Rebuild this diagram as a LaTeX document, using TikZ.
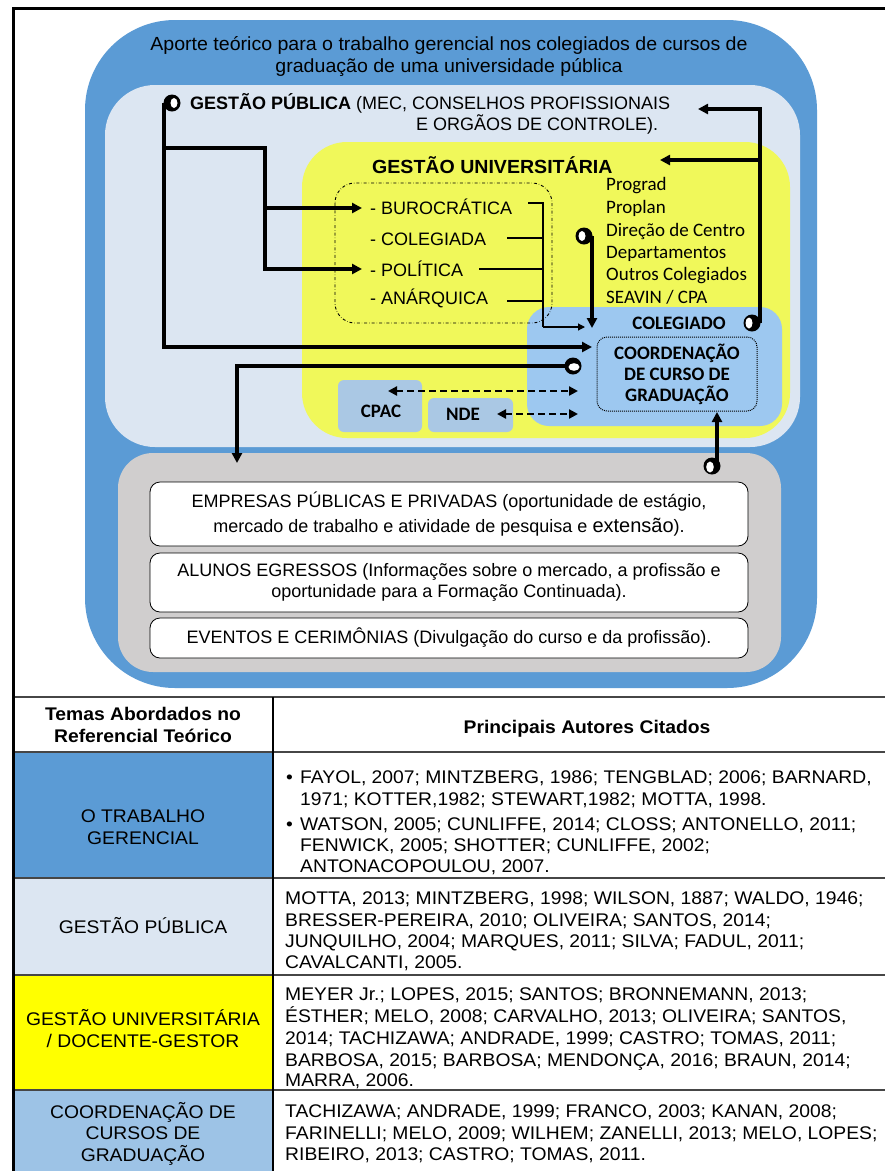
\documentclass[tikz,border=0pt]{standalone}
\usepackage{fontspec}
\setmainfont[FakeStretch=1.03]{Liberation Sans}
\newfontfamily\plainfont{Liberation Sans}
\newfontfamily\tabfont[FakeStretch=1.055]{Liberation Sans}
\newfontfamily\calfont{Carlito}
\usetikzlibrary{arrows.meta}
\definecolor{outerblue}{RGB}{91,155,213}
\definecolor{paleblue}{RGB}{220,230,242}
\definecolor{ylw}{RGB}{240,248,90}
\definecolor{colblue}{RGB}{157,200,240}
\definecolor{cpacblue}{RGB}{170,200,228}
\definecolor{greybox}{RGB}{208,206,206}
\definecolor{tabyellow}{RGB}{255,255,0}
\definecolor{tabblue}{RGB}{157,195,230}
\definecolor{rule}{RGB}{70,70,70}
\newcommand\fA{\fontsize{19}{21.5}\selectfont}
\newcommand\fB{\plainfont\fontsize{18}{21}\selectfont}
\newcommand\fC{\calfont\fontsize{19}{21}\selectfont}
\newcommand\fT{\tabfont\fontsize{18.3}{21.5}\selectfont}
\begin{document}
\begin{tikzpicture}[x=1pt,y=-1pt,
  conn/.style={line width=4pt,-{Triangle[length=10pt,width=10pt]}},
  thinconn/.style={line width=1.1pt},
  dsh/.style={line width=2.5pt,dash pattern=on 7pt off 4pt,
     {Triangle[length=9pt,width=9pt]}-{Triangle[length=9pt,width=9pt]}},
  knob/.style={circle,fill=black,inner sep=0pt,minimum size=17pt},
  txt/.style={inner sep=0pt,anchor=base west},
  ctxt/.style={inner sep=0pt,anchor=base,align=center},
  wbox/.style={draw=black,line width=0.8pt,fill=white,rounded corners=10pt}]
\useasboundingbox (0,0) rectangle (885,1171);
\fill[white] (0,0) rectangle (885,1171);
% frame
\draw[line width=3pt] (13,1171) -- (13,8) -- (885,8);
% regions
\fill[outerblue,rounded corners=90pt] (85,20) rectangle (817,688);
\fill[paleblue,rounded corners=50pt] (105,85) rectangle (800,447);
\fill[ylw,rounded corners=45pt] (302,142) rectangle (790,438);
\fill[colblue,rounded corners=22pt] (527,307) rectangle (782,426);
\fill[cpacblue,rounded corners=6pt] (338,380) rectangle (422,432);
\fill[cpacblue,rounded corners=6pt] (428,398) rectangle (513,432);
\draw[dash dot,line width=0.9pt,rounded corners=20pt] (335,183) rectangle (552,323);
\fill[greybox,rounded corners=35pt] (118,453) rectangle (781,672);
% title
\node[ctxt,font=\fA] (title) at (449,72) {Aporte teórico para o trabalho gerencial nos colegiados de cursos de\\graduação de uma universidade pública};
\node[txt,font=\fB] (gp1) at (190,109) {\textbf{GESTÃO PÚBLICA} (MEC, CONSELHOS PROFISSIONAIS};
\node[txt,font=\fB] (gp2) at (416,130) {E ORGÃOS DE CONTROLE).};
\node[txt,font=\fA\bfseries] (gu) at (372,173) {GESTÃO UNIVERSITÁRIA};
\node[txt,font=\fB] (bur) at (370,214) {- BUROCRÁTICA};
\node[txt,font=\fB] (col) at (370,245) {- COLEGIADA};
\node[txt,font=\fB] (pol) at (370,276) {- POLÍTICA};
\node[txt,font=\fB] (ana) at (370,304) {- ANÁRQUICA};
\node[txt,font=\fC] (l1) at (606,190) {Prograd};
\node[txt,font=\fC] (l2) at (606,213) {Proplan};
\node[txt,font=\fC] (l3) at (606,236) {Direção de Centro};
\node[txt,font=\fC] (l4) at (606,258) {Departamentos};
\node[txt,font=\fC] (l5) at (606,280) {Outros Colegiados};
\node[txt,font=\fC] (l6) at (606,303) {SEAVIN / CPA};
\node[ctxt,font=\fC\bfseries] (colg) at (679,329) {COLEGIADO};
\node[draw,densely dotted,line width=1pt,rounded corners=10pt,minimum width=160pt,minimum height=74pt,align=center,font=\fC\bfseries,inner sep=0pt] (coord) at (677,374) {COORDENAÇÃO\\DE CURSO DE\\GRADUAÇÃO};
\node[ctxt,font=\fC\bfseries] (cpac) at (381,417) {CPAC};
\node[ctxt,font=\fC\bfseries] (nde) at (463,420) {NDE};
% white boxes
\node[wbox,minimum width=598pt,minimum height=64pt,align=center,font=\fB,inner sep=0pt] (emp) at (449,514) {EMPRESAS PÚBLICAS E PRIVADAS (oportunidade de estágio,\\[4pt]mercado de trabalho e atividade de pesquisa e {\fontsize{20}{21}\selectfont extensão}).};
\node[wbox,minimum width=598pt,minimum height=59pt,align=center,font=\fB,inner sep=0pt] (alu) at (449,582.5) {ALUNOS EGRESSOS (Informações sobre o mercado, a profissão e\\oportunidade para a Formação Continuada).};
\node[wbox,minimum width=598pt,minimum height=40pt,align=center,font=\fB,inner sep=0pt] (eve) at (449,638) {EVENTOS E CERIMÔNIAS (Divulgação do curso e da profissão).};
% coordinates for connectors
\coordinate (a1) at (592,347);
\coordinate (b0) at (164,148);
\coordinate (b1) at (265,148);
\coordinate (b2) at (265,208);
\coordinate (t1) at (362,208);
\coordinate (t2) at (362,269);
\coordinate (s0) at (528,203);
\coordinate (s1) at (543,203);
\coordinate (s2) at (543,327);
\coordinate (s3) at (585,327);
\coordinate (c1) at (507,238);
\coordinate (c2) at (479,269);
\coordinate (c3) at (507,301);
\coordinate (r1) at (760,109);
\coordinate (r2) at (698,109);
\coordinate (r3) at (760,160);
\coordinate (r4) at (660,160);
\coordinate (d1) at (592,328);
\coordinate (e1) at (237,463);
\coordinate (f1) at (388,391);
\coordinate (f2) at (578,391);
\coordinate (f3) at (497,414);
\coordinate (f4) at (578,414);
\coordinate (k1p) at (172,103);
\coordinate (k2p) at (584,236);
\coordinate (k3p) at (752,323);
\coordinate (k4p) at (573,366);
\coordinate (k5p) at (712,466);
% connectors
\draw[conn] (164,103) |- (a1);
\draw[line width=4pt] (b0) -- (b1) -- (b2);
\draw[conn] (b2) -- (t1);
\draw[conn] (b2) |- (t2);
\draw[thinconn] (s0) -- (s1) -- (s2);
\draw[thinconn,-{Triangle[length=7pt,width=7pt]}] (s2) -- (s3);
\draw[thinconn] (c1) -- (c1 -| s1);
\draw[thinconn] (c2) -- (c2 -| s1);
\draw[thinconn] (c3) -- (c3 -| s1);
\draw[conn] (760,323) -- (r1) -- (r2);
\draw[conn] (r3) -- (r4);
\draw[conn] (592,236) -- (d1);
\draw[conn] (k4p) -| (e1);
\draw[conn] (717,466) -- (717,412);
\draw[dsh] (f1) -- (f2);
\draw[dsh] (f3) -- (f4);
% knobs
\node[knob] (k1) at (k1p) {};
\fill[white] (k1) ++(2,0) ellipse [x radius=3.5pt,y radius=5pt];
\node[knob] (k2) at (k2p) {};
\fill[white] (k2) ++(-2,0) ellipse [x radius=3.5pt,y radius=5pt];
\node[knob] (k3) at (k3p) {};
\fill[white] (k3) ++(-3,0) ellipse [x radius=3.5pt,y radius=5.5pt];
\node[knob] (k4) at (k4p) {};
\fill[white] (k4) ++(1,1) ellipse [x radius=5.5pt,y radius=3.8pt];
\node[knob] (k5) at (k5p) {};
\fill[white] (k5) ++(-2,1) ellipse [x radius=3.8pt,y radius=5.5pt];
% table
\fill[outerblue] (15,752) rectangle (273,878);
\fill[paleblue] (15,878) rectangle (273,975);
\fill[tabyellow] (15,975) rectangle (273,1090);
\fill[tabblue] (15,1090) rectangle (273,1171);
\draw[rule,line width=2pt] (13,697) -- (885,697);
\foreach \yy in {752,878,975,1090} {\draw[rule,line width=1.5pt] (13,\yy) -- (885,\yy);}
\draw[black,line width=1.5pt] (273,697) -- (273,1171);
\draw[line width=3pt] (13,690) -- (13,1171);
\node[ctxt,font=\fT\bfseries] (h1) at (143,742) {Temas Abordados no\\Referencial Teórico};
\node[ctxt,font=\fT\bfseries] (h2) at (587,733) {Principais Autores Citados};
\node[ctxt,font=\fT] (m1) at (143,844) {O TRABALHO\\GERENCIAL};
\node[ctxt,font=\fT] (m2) at (143,933) {GESTÃO PÚBLICA};
\node[ctxt,font=\fT] (m3) at (143,1047) {GESTÃO UNIVERSITÁRIA\\/ DOCENTE-GESTOR};
\node[ctxt,font=\fT] (m4) at (143,1161) {COORDENAÇÃO DE\\CURSOS DE\\GRADUAÇÃO};
\node[txt,font=\fT] (bl1) at (286,783) {•};
\node[txt,font=\fT] (bl2) at (286,830) {•};
\foreach \t/\yy [count=\i] in {{FAYOL, 2007; MINTZBERG, 1986; TENGBLAD; 2006; BARNARD,}/783,{1971; KOTTER,1982; STEWART,1982; MOTTA, 1998.}/805,{WATSON, 2005; CUNLIFFE, 2014; CLOSS; ANTONELLO, 2011;}/830,{FENWICK, 2005; SHOTTER; CUNLIFFE, 2002;}/851,{ANTONACOPOULOU, 2007.}/872}
  {\node[txt,font=\fT] (ra\i) at (300,\yy) {\t};}
\foreach \t/\yy [count=\i] in {{MOTTA, 2013; MINTZBERG, 1998; WILSON, 1887; WALDO, 1946;}/904,{BRESSER-PEREIRA, 2010; OLIVEIRA; SANTOS, 2014;}/926,{JUNQUILHO, 2004; MARQUES, 2011; SILVA; FADUL, 2011;}/947,{CAVALCANTI, 2005.}/968}
  {\node[txt,font=\fT] (rb\i) at (285,\yy) {\t};}
\foreach \t/\yy [count=\i] in {{MEYER Jr.; LOPES, 2015; SANTOS; BRONNEMANN, 2013;}/1000,{ÉSTHER; MELO, 2008; CARVALHO, 2013; OLIVEIRA; SANTOS,}/1022,{2014; TACHIZAWA; ANDRADE, 1999; CASTRO; TOMAS, 2011;}/1044,{BARBOSA, 2015; BARBOSA; MENDONÇA, 2016; BRAUN, 2014;}/1066,{MARRA, 2006.}/1086}
  {\node[txt,font=\fT] (rc\i) at (285,\yy) {\t};}
\foreach \t/\yy [count=\i] in {{TACHIZAWA; ANDRADE, 1999; FRANCO, 2003; KANAN, 2008;}/1117,{FARINELLI; MELO, 2009; WILHEM; ZANELLI, 2013; MELO, LOPES;}/1139,{RIBEIRO, 2013; CASTRO; TOMAS, 2011.}/1160}
  {\node[txt,font=\fT] (rd\i) at (285,\yy) {\t};}
\end{tikzpicture}
\end{document}
